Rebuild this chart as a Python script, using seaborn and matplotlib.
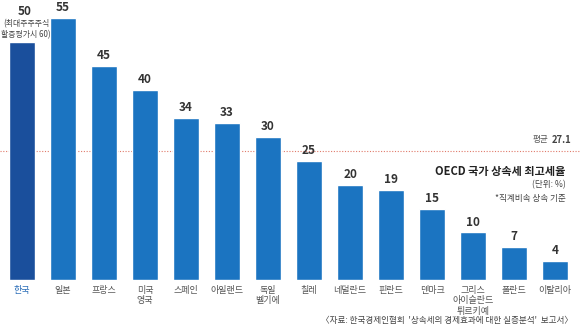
import matplotlib
matplotlib.use("Agg")
import matplotlib.pyplot as plt
import seaborn as sns
import pandas as pd

categories = ["한국", "일본", "프랑스", "미국\n영국", "스페인", "아일랜드", "독일\n벨기에",
              "칠레", "네덜란드", "핀란드", "덴마크", "그리스\n아이슬란드\n튀르키예", "폴란드", "이탈리아"]
values = [50, 55, 45, 40, 34, 33, 30, 25, 20, 19, 15, 10, 7, 4]
average = 27.1

sns.set_theme(style="white")
plt.rcParams['font.family'] = ['Noto Sans CJK KR', 'DejaVu Sans']

df = pd.DataFrame({"country": categories, "rate": values})
colors = ["#1a4f9c"] + ["#1b74c1"] * (len(categories) - 1)

fig = plt.figure(figsize=(5.8, 3.29), dpi=100)
ax = fig.add_axes([0.0, 0.149, 1.0, 0.796])
sns.barplot(data=df, x="country", y="rate", hue="country", palette=colors,
            legend=False, width=0.63, ax=ax, saturation=1)
ax.set_xlim(-0.54, 13.61)
ax.set_ylim(0, 55)
for s in ax.spines.values():
    s.set_visible(False)
ax.set_xlabel("")
ax.set_ylabel("")
ax.set_yticks([])
ax.tick_params(axis="x", length=0, pad=4)
ax.set_xticks(range(len(categories)))
ax.set_xticklabels(categories, fontsize=6.5, color="#555555", linespacing=1.25)
ax.get_xticklabels()[0].set_color("#2a6db8")

for i, v in enumerate(values):
    if i == 0:
        ax.text(i + 0.07, 56.3, str(v), ha="center", va="center", fontsize=8.5,
                fontweight="bold", color="#333333", clip_on=False)
        ax.text(i + 0.1, 52.6, "(최대주주주식\n할증평가시 60)", ha="center", va="center",
                fontsize=5.7, color="#444444", linespacing=1.3)
    else:
        ax.text(i, v + 0.8, str(v), ha="center", va="bottom", fontsize=8.5,
                fontweight="bold", color="#333333", clip_on=False)

ax.axhline(average, color="#e07a6a", linestyle=(0, (1, 1.5)), linewidth=0.8, zorder=0)
fig.text(0.986, 1 - 140 / 329, "27.1", ha="right", va="center", fontsize=6.8,
         fontweight="bold", color="#444444")
fig.text(0.946, 1 - 140 / 329, "평균", ha="right", va="center", fontsize=6.2, color="#555555")

fig.text(0.975, 1 - 172 / 329, "OECD 국가 상속세 최고세율", ha="right", va="center",
         fontsize=8, fontweight="bold", color="#222222")
fig.text(0.975, 1 - 185 / 329, "(단위: %)", ha="right", va="center", fontsize=6.2, color="#444444")
fig.text(0.975, 1 - 198 / 329, "*직계비속 상속 기준", ha="right", va="center", fontsize=6.2, color="#444444")
fig.text(0.988, 1 - 321 / 329, "〈자료: 한국경제인협회  '상속세의 경제효과에 대한 실증분석'  보고서〉",
         ha="right", va="center", fontsize=6.2, color="#444444")

fig.savefig("out.png", dpi=100, facecolor="white")
